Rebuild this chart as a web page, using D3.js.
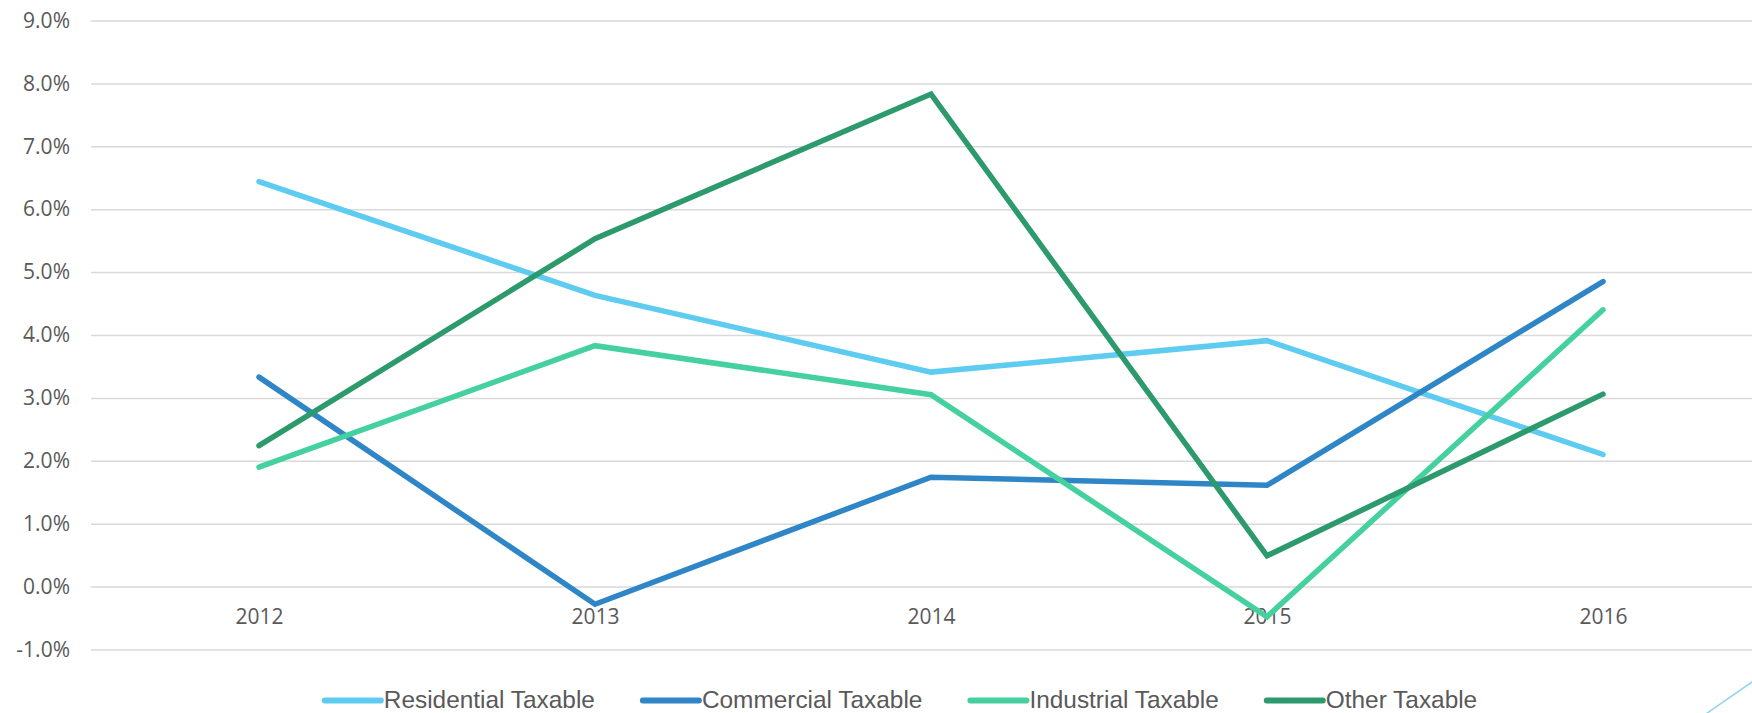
<!DOCTYPE html>
<html lang="en">
<head>
  <meta charset="UTF-8">
  <title>Taxable growth</title>
  <style>
    body { margin: 0; background: #fff; }
    text { fill: #595959; }
  </style>
</head>
<body>
<script src="https://d3js.org/d3.v7.min.js"></script>
<script>

  // data (percent change)
  var years = ["2012", "2013", "2014", "2015", "2016"];
  var residential = [6.44, 4.63, 3.41, 3.91, 2.10];
  var commercial = [3.33, -0.28, 1.74, 1.61, 4.85];
  var industrial = [1.90, 3.83, 3.05, -0.48, 4.40];
  var other = [2.24, 5.53, 7.83, 0.49, 3.06];
  var yTicks = [-1, 0, 1, 2, 3, 4, 5, 6, 7, 8, 9];

  var series = [
    {name: "Residential Taxable", values: residential, color: "#5ecbf0"},
    {name: "Commercial Taxable", values: commercial, color: "#2f86c6"},
    {name: "Industrial Taxable", values: industrial, color: "#44d19f"},
    {name: "Other Taxable", values: other, color: "#2d9a6d"}
  ];

  var w = 1752, h = 713;
  var plotLeft = 91, plotRight = 1771;

  var svg = d3.select("body").append("svg")
          .attr("width", w)
          .attr("height", h);

  var x = d3.scalePoint()
          .domain(years)
          .range([plotLeft, plotRight])
          .padding(0.5);

  var y = d3.scaleLinear()
          .domain([-1, 9])
          .range([649.5, 20.5]);

  // gridlines + y labels
  var yAxis = d3.axisLeft(y)
          .tickValues(yTicks)
          .tickSize(-(plotRight - plotLeft))
          .tickPadding(21)
          .tickFormat(function(d) { return d.toFixed(1) + "%"; });

  var gy = svg.append("g")
          .attr("transform", "translate(" + plotLeft + ",0)")
          .call(yAxis);
  gy.select(".domain").remove();
  gy.selectAll("line").attr("stroke", "#d9d9d9").attr("stroke-width", 1.5);
  gy.selectAll("text")
          .attr("font-family", "'Open Sans', sans-serif")
          .attr("font-size", "21px")
          .attr("fill", "#595959");

  // x labels
  var xAxis = d3.axisBottom(x).tickSize(0).tickPadding(0);
  var gx = svg.append("g")
          .attr("transform", "translate(0," + y(0) + ")")
          .call(xAxis);
  gx.select(".domain").remove();
  gx.selectAll("text")
          .attr("dy", null)
          .attr("y", 37)
          .attr("font-family", "'Open Sans', sans-serif")
          .attr("font-size", "21px")
          .attr("fill", "#595959");

  // lines
  var line = d3.line()
          .x(function(d, i) { return x(years[i]); })
          .y(function(d) { return y(d); });

  svg.append("g")
          .selectAll("path")
          .data(series)
          .enter()
          .append("path")
          .attr("d", function(d) { return line(d.values); })
          .attr("fill", "none")
          .attr("stroke", function(d) { return d.color; })
          .attr("stroke-width", 5.5)
          .attr("stroke-linejoin", "miter")
          .attr("stroke-linecap", "round");

  // legend
  var legend = svg.append("g").attr("transform", "translate(0,700.5)");
  var items = legend.selectAll("g")
          .data(series)
          .enter()
          .append("g");
  items.append("line")
          .attr("x1", 0).attr("x2", 56)
          .attr("y1", 0).attr("y2", 0)
          .attr("stroke", function(d) { return d.color; })
          .attr("stroke-width", 6)
          .attr("stroke-linecap", "round");
  items.append("text")
          .attr("x", 59)
          .attr("y", 7.5)
          .attr("font-family", "'Liberation Sans', Arial, sans-serif")
          .attr("font-size", "24.4px")
          .attr("fill", "#595959")
          .text(function(d) { return d.name; });

  var pos = 0, offsets = [];
  items.each(function() {
    offsets.push(pos);
    pos += 59 + d3.select(this).select("text").node().getComputedTextLength() + 48;
  });
  var total = pos - 48;
  var start = 901 - total / 2;
  items.attr("transform", function(d, i) { return "translate(" + (start + offsets[i]) + ",0)"; });

  // slide decoration in the corner
  svg.append("line")
          .attr("x1", 1700).attr("y1", 718)
          .attr("x2", 1760).attr("y2", 676.5)
          .attr("stroke", "#8fd5f2")
          .attr("stroke-width", 1.5);

</script>
</body>
</html>
